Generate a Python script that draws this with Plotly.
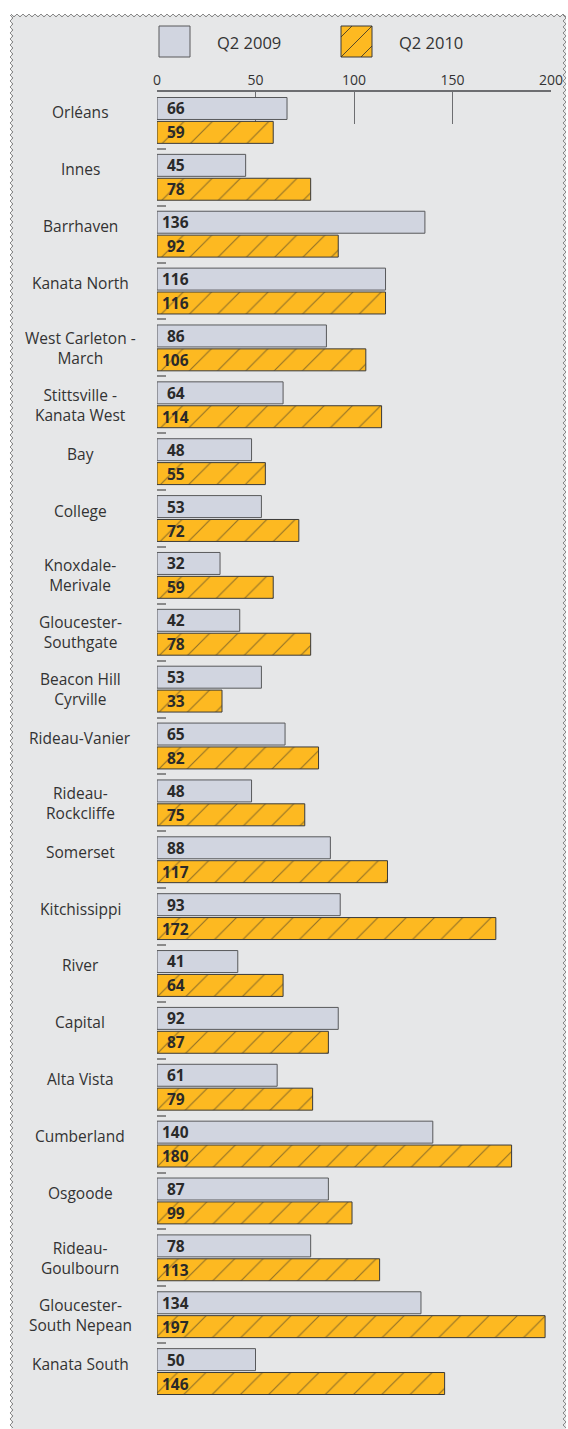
import plotly.graph_objects as go

# Ward names (line breaks as printed) and counts for the two quarters
wards = [
    "Orléans", "Innes", "Barrhaven", "Kanata North", "West Carleton -<br>March",
    "Stittsville -<br>Kanata West", "Bay", "College", "Knoxdale-<br>Merivale",
    "Gloucester-<br>Southgate", "Beacon Hill<br>Cyrville", "Rideau-Vanier",
    "Rideau-<br>Rockcliffe", "Somerset", "Kitchissippi", "River", "Capital",
    "Alta Vista", "Cumberland", "Osgoode", "Rideau-<br>Goulbourn",
    "Gloucester-<br>South Nepean", "Kanata South",
]
q2_2009 = [66, 45, 136, 116, 86, 64, 48, 53, 32, 42, 53, 65, 48, 88, 93, 41, 92, 61, 140, 87, 78, 134, 50]
q2_2010 = [59, 78, 92, 116, 106, 114, 55, 72, 59, 78, 33, 82, 75, 117, 172, 64, 87, 79, 180, 99, 113, 197, 146]
series_names = ["Q2 2009", "Q2 2010"]
x_ticks = [0, 50, 100, 150, 200]

W, H = 568, 1429
GREY_BAR = "#d1d5e0"
ORANGE = "#fdb921"
PANEL = "#e6e7e8"
AXIS = "#6d6e71"
TEXT = "#333333"
FONT = "Open Sans"


def fx(p):
    return p / W


def fy(p):
    return 1 - p / H


fig = go.Figure()
fig.add_trace(go.Bar(
    y=wards, x=q2_2009, orientation="h", name=series_names[0],
    marker=dict(color=GREY_BAR, line=dict(color="#58595b", width=1)),
    showlegend=False, hoverinfo="x+y",
))
fig.add_trace(go.Bar(
    y=wards, x=q2_2010, orientation="h", name=series_names[1],
    marker=dict(color=ORANGE, line=dict(color="#3a3a3a", width=1),
                pattern=dict(shape="/", size=20, solidity=0.06,
                             fgcolor="#2b2b2b", bgcolor=ORANGE, fillmode="overlay")),
    showlegend=False, hoverinfo="x+y",
))

annotations = []
# value labels near the start of each bar
for name, a, b in zip(wards, q2_2009, q2_2010):
    for val, shift in ((a, 12), (b, -12)):
        annotations.append(dict(
            x=9.5, y=name, xref="x", yref="y", text=f"<b>{val}</b>",
            showarrow=False, xanchor="center", yanchor="middle", yshift=shift,
            font=dict(family=FONT, size=15.5, color="#2a2a2a"),
        ))
    # ward name, centred in the left column
    annotations.append(dict(
        x=fx(80), y=name, xref="paper", yref="y", text=name,
        showarrow=False, xanchor="center", yanchor="middle", align="center",
        yshift=0 if "<br>" in name else 8,
        font=dict(family=FONT, size=15.5, color=TEXT),
    ))

# legend text
for xpos, label in ((215, series_names[0]), (397, series_names[1])):
    annotations.append(dict(x=fx(xpos), y=fy(42), xref="paper", yref="paper", text=label,
                            showarrow=False, xanchor="left", yanchor="middle",
                            font=dict(family=FONT, size=16.5, color=TEXT)))

shapes = []
# grey panel
shapes.append(dict(type="rect", xref="paper", yref="paper", x0=fx(11), x1=fx(566), y0=fy(H), y1=fy(15),
                   fillcolor=PANEL, line=dict(width=0), layer="below"))


def zigzag(points):
    return "M " + " L ".join(f"{fx(x):.5f},{fy(y):.5f}" for x, y in points)


top = [(11 + i * 3, 14 if i % 2 == 0 else 17) for i in range(int((566 - 11) / 3) + 1)]
left = [(10 if i % 2 == 0 else 13, 15 + i * 3) for i in range(int((H - 15) / 3) + 1)]
right = [(563 if i % 2 == 0 else 566, 15 + i * 3) for i in range(int((H - 15) / 3) + 1)]
for pts in (top, left, right):
    shapes.append(dict(type="path", xref="paper", yref="paper", path=zigzag(pts),
                       line=dict(color="#8a8a8a", width=1), layer="below"))

# legend swatches
shapes.append(dict(type="rect", xref="paper", yref="paper", x0=fx(159), x1=fx(190), y0=fy(57), y1=fy(26),
                   fillcolor=GREY_BAR, line=dict(color="#58595b", width=1)))
shapes.append(dict(type="rect", xref="paper", yref="paper", x0=fx(341), x1=fx(372), y0=fy(57), y1=fy(26),
                   fillcolor=ORANGE, line=dict(color="#3a3a3a", width=1)))
hatch = ""
for x0, y0, x1, y1 in ((341, 37, 352, 26), (341, 57, 372, 26), (361, 57, 372, 46)):
    hatch += f"M {fx(x0):.5f},{fy(y0):.5f} L {fx(x1):.5f},{fy(y1):.5f} "
shapes.append(dict(type="path", xref="paper", yref="paper", path=hatch,
                   line=dict(color="#2b2b2b", width=0.8)))

fig.update_layout(
    template="none",
    width=W, height=H, autosize=False,
    margin=dict(l=0, r=0, t=0, b=0, pad=0, autoexpand=False),
    paper_bgcolor="white", plot_bgcolor="rgba(0,0,0,0)",
    barmode="group", bargap=0.16, bargroupgap=0.08,
    annotations=annotations, shapes=shapes,
    font=dict(family=FONT, color=TEXT),
    xaxis=dict(
        domain=[fx(157), fx(551)], range=[0, 200], side="top", automargin=False,
        tickmode="array", tickvals=x_ticks, ticktext=[str(t) for t in x_ticks],
        ticks="inside", ticklen=32, tickwidth=1.3, tickcolor=AXIS,
        showline=True, linecolor=AXIS, linewidth=1.5,
        showgrid=False, zeroline=False, layer="below traces",
        tickfont=dict(family=FONT, size=14, color=TEXT), fixedrange=True,
    ),
    yaxis=dict(
        domain=[fy(1400), fy(92)], type="category", autorange="reversed", automargin=False,
        showticklabels=False, ticks="inside", tickson="boundaries",
        ticklen=9, tickwidth=2, tickcolor="#8a8a8a",
        showline=False, showgrid=False, zeroline=False, fixedrange=True,
    ),
)

fig.write_html("out.html", config={"displayModeBar": False})
